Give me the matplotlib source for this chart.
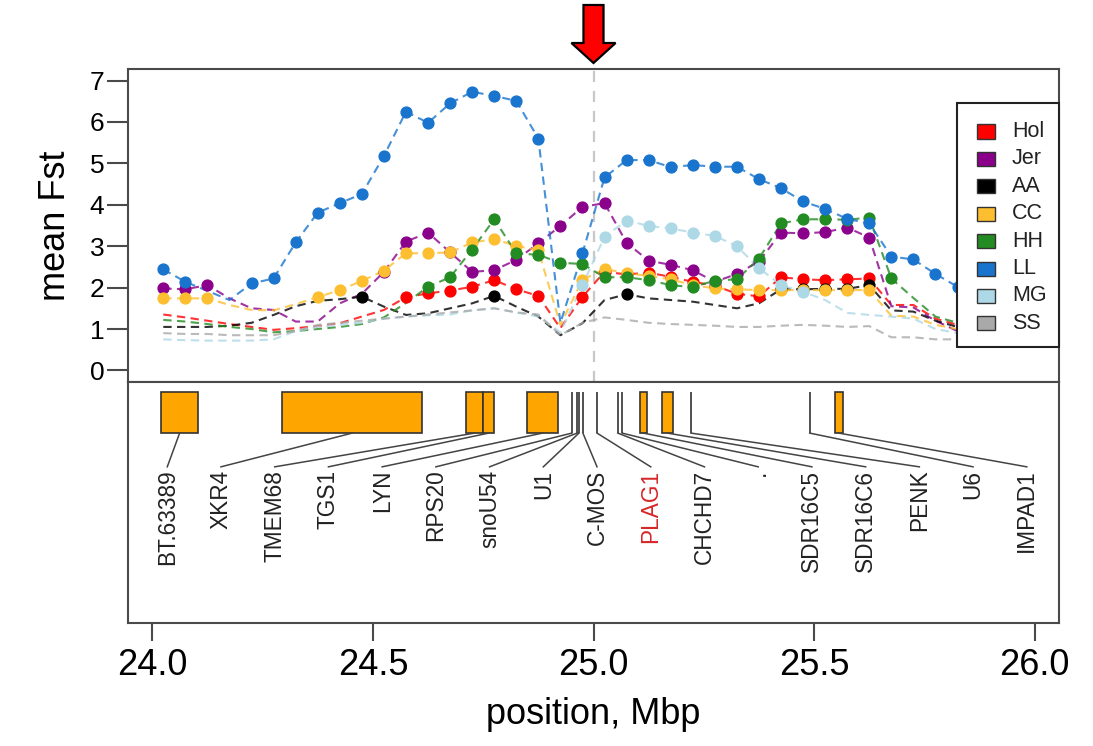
import numpy as np
import matplotlib
matplotlib.use("Agg")
import matplotlib.pyplot as plt
from matplotlib.patches import Rectangle, Polygon
from matplotlib.transforms import blended_transform_factory

plt.rcParams['font.family'] = ['Liberation Sans', 'DejaVu Sans']

# ---------------------------------------------------------------- data
# window centres along the chromosome (Mbp)
positions = [24.025, 24.075, 24.125, 24.175, 24.225, 24.275, 24.325, 24.375,
             24.425, 24.475, 24.525, 24.575, 24.625, 24.675, 24.725, 24.775,
             24.825, 24.875, 24.925, 24.975, 25.025, 25.075, 25.125, 25.175,
             25.225, 25.275, 25.325, 25.375, 25.425, 25.475, 25.525, 25.575,
             25.625, 25.675, 25.725, 25.775, 25.825, 25.875, 25.925, 25.975]

breeds = ["Hol", "Jer", "AA", "CC", "HH", "LL", "MG", "SS"]

fst_hol = [1.35, 1.28, 1.20, 1.12, 1.05, 0.98, 1.02, 1.07, 1.14, 1.30, 1.46, 1.77,
           1.86, 1.93, 2.02, 2.18, 1.96, 1.80, 1.02, 1.78, 2.38, 2.32, 2.36, 2.26,
           2.14, 2.05, 1.85, 1.79, 2.25, 2.20, 2.18, 2.20, 2.22, 1.58, 1.58, 1.25,
           1.10, 1.00, 0.90, 0.85]
fst_jer = [1.98, 1.96, 2.06, 1.74, 1.50, 1.46, 1.18, 1.18, 1.62, 1.85, 2.38, 3.11,
           3.33, 2.85, 2.38, 2.42, 2.67, 3.07, 3.49, 3.95, 4.04, 3.08, 2.65, 2.55,
           2.42, 2.14, 2.33, 2.63, 3.33, 3.31, 3.34, 3.45, 3.21, 1.55, 1.52, 1.20,
           0.95, 0.85, 0.80, 0.75]
fst_aa = [1.05, 1.05, 1.05, 1.08, 1.15, 1.34, 1.55, 1.68, 1.72, 1.78, 1.54, 1.34,
          1.38, 1.50, 1.62, 1.80, 1.54, 1.30, 0.85, 1.14, 1.70, 1.84, 1.74, 1.70,
          1.66, 1.58, 1.50, 1.62, 1.96, 1.96, 1.97, 1.97, 2.06, 1.45, 1.42, 1.20,
          1.05, 0.95, 0.90, 0.85]
fst_cc = [1.74, 1.74, 1.74, 1.58, 1.46, 1.45, 1.60, 1.77, 1.94, 2.16, 2.41, 2.83,
          2.83, 2.85, 3.09, 3.17, 3.01, 2.90, 1.10, 2.19, 2.45, 2.35, 2.28, 2.20,
          2.06, 1.98, 1.96, 1.94, 1.94, 1.94, 1.94, 1.94, 1.94, 1.32, 1.30, 1.10,
          1.00, 0.95, 0.90, 0.85]
fst_hh = [1.22, 1.18, 1.12, 1.05, 1.00, 0.92, 0.95, 1.00, 1.05, 1.12, 1.28, 1.63,
          2.02, 2.25, 2.92, 3.65, 2.83, 2.79, 2.60, 2.57, 2.25, 2.25, 2.18, 2.06,
          2.01, 2.17, 2.20, 2.70, 3.55, 3.65, 3.65, 3.64, 3.69, 2.22, 1.75, 1.30,
          1.15, 1.05, 1.00, 0.90]
fst_ll = [2.44, 2.14, 1.92, 1.70, 2.10, 2.22, 3.09, 3.81, 4.04, 4.26, 5.18, 6.25,
          5.98, 6.45, 6.73, 6.63, 6.51, 5.60, 1.15, 2.83, 4.66, 5.08, 5.08, 4.91,
          4.96, 4.92, 4.92, 4.62, 4.40, 4.08, 3.90, 3.66, 3.55, 2.75, 2.68, 2.33,
          2.02, 1.70, 1.40, 1.10]
fst_mg = [0.75, 0.73, 0.72, 0.72, 0.72, 0.75, 0.95, 1.05, 1.10, 1.15, 1.25, 1.30,
          1.33, 1.35, 1.45, 1.50, 1.40, 1.30, 0.92, 2.06, 3.23, 3.62, 3.49, 3.43,
          3.33, 3.25, 3.00, 2.47, 2.06, 1.90, 1.70, 1.39, 1.34, 1.30, 1.25, 1.00,
          0.90, 0.85, 0.80, 0.75]
fst_ss = [0.90, 0.88, 0.88, 0.85, 0.85, 0.85, 0.95, 1.10, 1.15, 1.20, 1.25, 1.30,
          1.35, 1.40, 1.45, 1.50, 1.40, 1.35, 0.85, 1.15, 1.28, 1.22, 1.15, 1.12,
          1.10, 1.08, 1.05, 1.05, 1.08, 1.10, 1.08, 1.05, 1.07, 0.80, 0.80, 0.75,
          0.75, 0.72, 0.70, 0.70]

# per-breed significance threshold: windows above it are marked with a dot
thresholds = [1.70, 1.90, 1.75, 1.70, 1.90, 2.00, 1.85, 99.0]

# genes in the region: name, start, end (Mbp)
gene_names = ["BT.63389", "XKR4", "TMEM68", "TGS1", "LYN", "RPS20", "snoU54",
              "U1", "C-MOS", "PLAG1", "CHCHD7", ".", "SDR16C5", "SDR16C6",
              "PENK", "U6", "IMPAD1"]
gene_start = [24.020, 24.294, 24.711, 24.750, 24.849, 24.951, 24.963, 24.967,
              24.976, 25.008, 25.055, 25.065, 25.105, 25.155, 25.221, 25.490,
              25.547]
gene_end = [24.104, 24.612, 24.750, 24.775, 24.920, 24.951, 24.963, 24.967,
            24.976, 25.008, 25.055, 25.065, 25.121, 25.180, 25.221, 25.490,
            25.565]
highlight_gene = "PLAG1"
candidate_pos = 25.0

x_ticks = [24.0, 24.5, 25.0, 25.5, 26.0]
x_tick_labels = ["24.0", "24.5", "25.0", "25.5", "26.0"]
y_ticks = [0, 1, 2, 3, 4, 5, 6, 7]

# ---------------------------------------------------------------- style
colors = ["#FF0000", "#8B008B", "#000000", "#FDBF2F", "#228B22", "#1874CD",
          "#ADD8E6", "#A9A9A9"]
frame_col = "#4a4a4a"

W, H = 1093, 746
fig = plt.figure(figsize=(W / 100, H / 100), dpi=100)
fig.patch.set_facecolor("white")

L, R = 128, 1059
T1, B1, B2 = 69, 382, 623
ax = fig.add_axes([L / W, 1 - B1 / H, (R - L) / W, (B1 - T1) / H])
axg = fig.add_axes([L / W, 1 - B2 / H, (R - L) / W, (B2 - B1) / H])

xlim = (23.945, 26.055)

# ---------------------------------------------------------------- Fst panel
series = [fst_hol, fst_jer, fst_aa, fst_cc, fst_hh, fst_ll, fst_mg, fst_ss]
x = np.array(positions)
ax.axvline(candidate_pos, color="#c8c8c8", lw=1.6, ls=(0, (5, 4)), zorder=0.5)
for vals, col, thr in zip(series, colors, thresholds):
    v = np.array(vals)
    ax.plot(x, v, ls=(0, (4, 2.6)), lw=1.5, color=col, alpha=0.8, zorder=2)
    sig = v >= thr
    ax.plot(x[sig], v[sig], ls="none", marker="o", ms=7.8, color=col,
            mec=col, zorder=3)

ax.set_xlim(*xlim)
ax.set_ylim(-0.28, 7.28)
ax.set_yticks(y_ticks)
ax.set_xticks([])
ax.tick_params(axis="y", direction="out", length=15, width=1.5,
               color=frame_col, labelsize=19, pad=2)
ax.set_ylabel("mean Fst", fontsize=26, labelpad=12)
for s in ax.spines.values():
    s.set_color(frame_col)
    s.set_linewidth(1.5)


def px2ax(px, py):
    return (px - L) / (R - L), (B1 - py) / (B1 - T1)


# legend box
lx0, ly0 = px2ax(957, 347)
lx1, ly1 = px2ax(1059, 103)
ax.add_patch(Rectangle((lx0, ly0), lx1 - lx0, ly1 - ly0, transform=ax.transAxes,
                       facecolor="white", edgecolor="#222222", lw=1.5,
                       zorder=10, clip_on=False))
for i, (name, col) in enumerate(zip(breeds, colors)):
    cy = 131.5 + 27.4 * i
    px0, py0 = px2ax(977, cy + 7)
    px1, py1 = px2ax(995, cy - 7)
    ax.add_patch(Rectangle((px0, py0), px1 - px0, py1 - py0,
                           transform=ax.transAxes, facecolor=col,
                           edgecolor="#333333", lw=1.0, zorder=11,
                           clip_on=False))
    tx, ty = px2ax(1012, cy)
    ax.text(tx, ty, name, transform=ax.transAxes, fontsize=15.5, va="center",
            ha="left", color="#222222", zorder=12)

# red arrow pointing at the candidate position
tr = blended_transform_factory(ax.transData, fig.transFigure)
hw, hh_ = 0.0227, 0.050
y_top, y_base, y_tip = 1 - 5 / H, 1 - 43 / H, 1 - 63 / H
arrow = Polygon([(candidate_pos - hw, y_top), (candidate_pos + hw, y_top),
                 (candidate_pos + hw, y_base), (candidate_pos + hh_, y_base),
                 (candidate_pos, y_tip), (candidate_pos - hh_, y_base),
                 (candidate_pos - hw, y_base)], closed=True, transform=tr,
                facecolor="#FF0000", edgecolor="black", lw=1.6, clip_on=False,
                zorder=20)
fig.add_artist(arrow)

# ---------------------------------------------------------------- gene panel
axg.set_xlim(*xlim)
axg.set_ylim(0, 1)
box_top, box_bot = 0.9585, 0.788
conn_end, label_top = 0.648, 0.636
label_x = np.linspace(24.034, 25.982, len(gene_names))
for name, s, e, lxp in zip(gene_names, gene_start, gene_end, label_x):
    axg.add_patch(Rectangle((s, box_bot), e - s, box_top - box_bot,
                            facecolor="#FFA500", edgecolor="#333333", lw=1.2))
    mid = (s + e) / 2
    axg.plot([mid, lxp], [box_bot, conn_end], color="#444444", lw=1.1)
    axg.text(lxp, label_top, name, rotation=90, ha="center", va="top",
             fontsize=16.3,
             color="#D62728" if name == highlight_gene else "#222222")

axg.set_yticks([])
axg.set_xticks(x_ticks)
axg.set_xticklabels(x_tick_labels)
axg.tick_params(axis="x", direction="out", length=13, width=1.5,
                color=frame_col, labelsize=26, pad=5)
axg.set_xlabel("position, Mbp", fontsize=26, labelpad=10)
for s in axg.spines.values():
    s.set_color(frame_col)
    s.set_linewidth(1.5)

fig.savefig("out.png", dpi=100, facecolor="white")
